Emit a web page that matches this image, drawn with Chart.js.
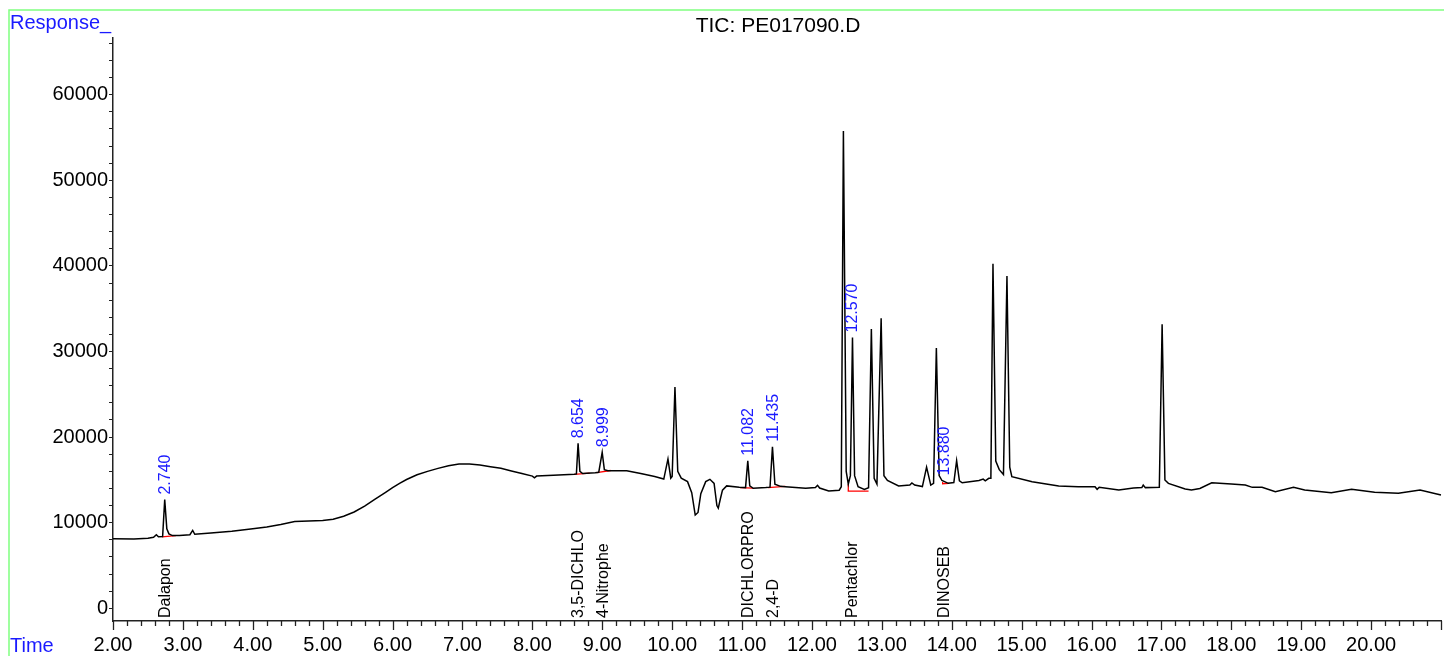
<!DOCTYPE html>
<html>
<head>
<meta charset="utf-8">
<title>TIC: PE017090.D</title>
<script src="https://cdn.jsdelivr.net/npm/chart.js@4.4.1/dist/chart.umd.min.js"></script>
<style>
  html, body { margin: 0; padding: 0; background: #fff; overflow: hidden; }
  #wrap { width: 1444px; height: 656px; position: relative; }
</style>
</head>
<body>
<div id="wrap"><canvas id="tic" width="1444" height="656"></canvas></div>
<script>
// Chromatogram trace: time (min) and response
const times = [
  2.00, 2.30, 2.50, 2.58, 2.62, 2.65, 2.71, 2.74, 2.77, 2.80, 2.85, 2.95, 3.10, 3.14, 3.17,
  3.40, 3.70, 4.00, 4.20, 4.40, 4.60, 4.80, 5.00, 5.15, 5.30, 5.45, 5.60, 5.75, 5.90, 6.00,
  6.10, 6.20, 6.35, 6.50, 6.65, 6.80, 6.95, 7.10, 7.25, 7.40, 7.55, 7.70, 7.85, 8.00, 8.03,
  8.06, 8.30, 8.60, 8.63, 8.654, 8.68, 8.72, 8.90, 8.95, 8.999, 9.03, 9.08, 9.35, 9.55, 9.75,
  9.88, 9.94, 9.98, 10.00, 10.04, 10.08, 10.13, 10.22, 10.28, 10.33, 10.37, 10.41, 10.48, 10.54, 10.60,
  10.64, 10.66, 10.69, 10.72, 10.78, 10.96, 11.05, 11.082, 11.11, 11.16, 11.34, 11.40, 11.435, 11.47, 11.55,
  11.62, 11.91, 12.05, 12.08, 12.11, 12.24, 12.39, 12.42, 12.45, 12.49, 12.52, 12.55, 12.58, 12.61, 12.66,
  12.75, 12.81, 12.85, 12.89, 12.93, 12.99, 13.03, 13.08, 13.24, 13.40, 13.43, 13.47, 13.58, 13.64, 13.70,
  13.74, 13.78, 13.82, 13.86, 13.95, 14.03, 14.07, 14.11, 14.15, 14.39, 14.45, 14.48, 14.53, 14.56, 14.59,
  14.63, 14.68, 14.74, 14.79, 14.83, 14.86, 15.15, 15.53, 15.81, 16.05, 16.08, 16.11, 16.39, 16.60, 16.72,
  16.74, 16.77, 16.97, 17.01, 17.05, 17.10, 17.34, 17.43, 17.55, 17.72, 18.00, 18.20, 18.30, 18.44, 18.63,
  18.89, 19.05, 19.43, 19.72, 20.05, 20.39, 20.70, 21.00
];
const responses = [
  8130, 8100, 8200, 8300, 8600, 8350, 8380, 12700, 9300, 8700, 8500, 8500, 8600, 9100, 8650,
  8800, 9000, 9300, 9500, 9800, 10150, 10200, 10250, 10400, 10750, 11250, 11950, 12750, 13550, 14100,
  14600, 15050, 15600, 16000, 16350, 16650, 16850, 16870, 16750, 16550, 16350, 16050, 15750, 15450, 15250,
  15450, 15550, 15650, 15700, 19280, 16000, 15750, 15850, 15900, 18220, 16200, 16080, 16080, 15750, 15400,
  15100, 17450, 15200, 15400, 25850, 16000, 15200, 14800, 13500, 10900, 11200, 13400, 14800, 15070, 14600,
  12000, 11700, 12800, 13800, 14300, 14130, 14100, 17240, 14300, 14020, 14100, 14150, 18880, 14500, 14250,
  14210, 14020, 14100, 14370, 14050, 13700, 13800, 14200, 55760, 16000, 14520, 15500, 31640, 15500, 14200,
  13900, 14100, 32630, 15200, 14520, 33870, 15500, 14930, 14300, 14400, 14650, 14400, 14220, 16500, 14400,
  14600, 30400, 15500, 14930, 14600, 14700, 17250, 14900, 14660, 14930, 15100, 14900, 15190, 15200, 40250,
  17200, 16200, 15630, 38830, 16500, 15370, 14790, 14290, 14210, 14200, 13900, 14150, 13820, 14050, 14100,
  14400, 14100, 14130, 33170, 15000, 14600, 13940, 13820, 14000, 14670, 14520, 14400, 14130, 14150, 13620,
  14130, 13820, 13500, 13900, 13550, 13430, 13820, 13240
];

// Integrated peaks: retention time and compound name
const peakTimes = [2.740, 8.654, 8.999, 11.082, 11.435, 12.570, 13.880];
const peakLabels = ['2.740', '8.654', '8.999', '11.082', '11.435', '12.570', '13.880'];
const compoundNames = ['Dalapon', '3,5-DICHLO', '4-Nitrophe', 'DICHLORPRO', '2,4-D', 'Pentachlor', 'DINOSEB'];

// Red integration baselines (time, response) per peak
const baselineTimes = [
  [2.70, 2.90], [8.60, 8.82], [8.92, 9.12], [10.97, 11.16], [11.37, 11.62],
  [12.52, 12.52, 12.81], [13.87, 13.87, 13.96]
];
const baselineValues = [
  [8350, 8500], [15650, 15800], [15850, 16100], [14100, 14050], [14100, 14250],
  [14520, 13680, 13680], [14750, 14550, 14600]
];

// Axis labels
const xTickLabels = ['2.00', '3.00', '4.00', '5.00', '6.00', '7.00', '8.00', '9.00', '10.00',
  '11.00', '12.00', '13.00', '14.00', '15.00', '16.00', '17.00', '18.00', '19.00', '20.00'];
const yTickLabels = [0, 10000, 20000, 30000, 40000, 50000, 60000];

const FONT = '"Liberation Sans", Arial, sans-serif';
const BLUE = '#1a1aff';

const traceData = times.map((t, i) => ({ x: t, y: responses[i] }));

const datasets = [{
  data: traceData,
  borderColor: '#000',
  borderWidth: 1.5,
  pointRadius: 0,
  tension: 0
}];
baselineTimes.forEach((seg, i) => {
  datasets.push({
    data: seg.map((t, j) => ({ x: t, y: baselineValues[i][j] })),
    borderColor: '#ff0000',
    borderWidth: 1.3,
    pointRadius: 0,
    tension: 0
  });
});

// tallest point of the trace near a retention time
function peakTop(rt) {
  let best = -Infinity;
  times.forEach((t, i) => {
    if (Math.abs(t - rt) <= 0.03 && responses[i] > best) best = responses[i];
  });
  return best;
}

// frame, title, axis captions, minor ticks and peak annotations
const decorations = {
  id: 'decorations',
  beforeDraw(chart) {
    const ctx = chart.ctx;
    ctx.save();
    ctx.strokeStyle = '#80ff80';
    ctx.lineWidth = 1.5;
    ctx.beginPath();
    ctx.moveTo(9, 656);
    ctx.lineTo(9, 10);
    ctx.lineTo(1444, 10);
    ctx.stroke();
    ctx.restore();
  },
  afterDraw(chart) {
    const ctx = chart.ctx;
    const xs = chart.scales.x;
    const ys = chart.scales.y;
    const axisY = chart.chartArea.bottom;
    ctx.save();

    // x ticks: long ones on whole minutes, short ones every 0.2
    ctx.strokeStyle = '#222';
    ctx.lineWidth = 1.3;
    xs.ticks.forEach(tk => {
      const px = Math.round(xs.getPixelForValue(tk.value)) + 0.5;
      const major = Math.abs(tk.value - Math.round(tk.value)) < 1e-6;
      ctx.beginPath();
      ctx.moveTo(px, axisY);
      ctx.lineTo(px, axisY + (major ? 9 : 5));
      ctx.stroke();
    });

    ctx.font = '20px ' + FONT;
    ctx.fillStyle = BLUE;
    ctx.textBaseline = 'alphabetic';
    ctx.textAlign = 'left';
    ctx.fillText('Response_', 10, 29);
    ctx.fillText('Time', 10, 652);

    ctx.fillStyle = '#000';
    ctx.textAlign = 'center';
    ctx.font = '21px ' + FONT;
    ctx.fillText('TIC: PE017090.D', 778, 32);

    // vertical labels
    ctx.textBaseline = 'middle';
    ctx.textAlign = 'left';
    peakTimes.forEach((rt, i) => {
      const px = xs.getPixelForValue(rt);
      ctx.save();
      ctx.translate(px + 1, axisY - 3);
      ctx.rotate(-Math.PI / 2);
      ctx.font = '16px ' + FONT;
      ctx.fillStyle = '#000';
      ctx.fillText(compoundNames[i], 0, 0);
      ctx.restore();

      const top = ys.getPixelForValue(peakTop(rt));
      ctx.save();
      ctx.translate(px + 1, top - 5);
      ctx.rotate(-Math.PI / 2);
      ctx.font = '16px ' + FONT;
      ctx.fillStyle = BLUE;
      ctx.fillText(peakLabels[i], 0, 0);
      ctx.restore();
    });
    ctx.restore();
  }
};

new Chart(document.getElementById('tic'), {
  type: 'line',
  data: { datasets: datasets },
  options: {
    responsive: false,
    devicePixelRatio: 1,
    animation: false,
    parsing: false,
    layout: { padding: { top: 38, left: 0, right: 0, bottom: 0 } },
    plugins: { legend: { display: false }, tooltip: { enabled: false }, title: { display: false } },
    scales: {
      x: {
        type: 'linear',
        position: 'bottom',
        min: 2,
        max: 21.01,
        afterBuildTicks(scale) {
          const list = [];
          for (let i = 0; i <= 95; i++) list.push({ value: 2 + i / 5 });
          scale.ticks = list;
        },
        afterFit(scale) { scale.height = 35; },
        ticks: {
          autoSkip: false,
          maxRotation: 0,
          padding: 3,
          color: '#000',
          font: { family: FONT, size: 20 },
          callback(value) {
            const lbl = Number(value).toFixed(2);
            return xTickLabels.includes(lbl) ? lbl : '';
          }
        },
        grid: { drawOnChartArea: false, drawTicks: true, tickLength: 9, tickColor: 'rgba(0,0,0,0)' },
        border: { display: true, color: '#222', width: 1.5 }
      },
      y: {
        type: 'linear',
        position: 'left',
        min: -1480,
        max: 66620,
        afterBuildTicks(scale) {
          const list = [];
          for (let v = 0; v <= 66000; v += 2000) list.push({ value: v });
          scale.ticks = list;
        },
        afterFit(scale) { scale.width = 113; },
        ticks: {
          autoSkip: false,
          padding: 1,
          color: '#000',
          font: { family: FONT, size: 20 },
          callback(value) {
            return yTickLabels.includes(value) ? String(value) : '';
          }
        },
        grid: { drawOnChartArea: false, drawTicks: true, tickLength: 4, tickColor: '#222' },
        border: { display: true, color: '#222', width: 1.5 }
      }
    }
  },
  plugins: [decorations]
});
</script>
</body>
</html>
